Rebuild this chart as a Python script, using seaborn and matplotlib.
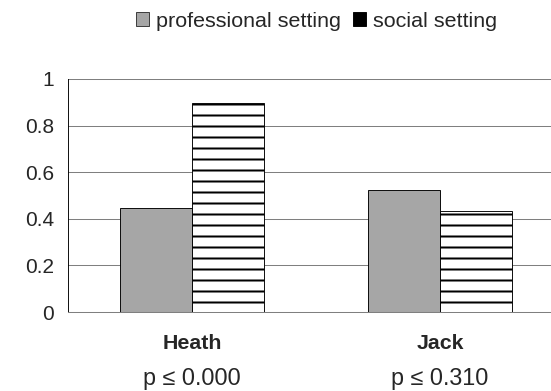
import matplotlib
matplotlib.use("Agg")
import matplotlib.pyplot as plt
import matplotlib.transforms as mtransforms
from matplotlib.patches import Patch
import seaborn as sns
import pandas as pd

categories = ["Heath", "Jack"]
p_labels = ["p \u2264 0.000", "p \u2264 0.310"]
series = ["professional setting", "social setting"]
professional = [0.445, 0.523]
social = [0.897, 0.435]
y_ticks = [0, 0.2, 0.4, 0.6, 0.8, 1]
y_tick_labels = ["0", "0.2", "0.4", "0.6", "0.8", "1"]

df = pd.DataFrame({
    "name": categories * 2,
    "setting": [series[0]] * 2 + [series[1]] * 2,
    "value": professional + social,
})

sns.set_style("white")
plt.rcParams["font.family"] = ["Liberation Sans", "DejaVu Sans"]
plt.rcParams["hatch.linewidth"] = 2.2

DPI = 66
W, H = 551, 391
fig = plt.figure(figsize=(W / DPI, H / DPI), dpi=DPI)
# axes extends beyond right edge (cropped, like the reference)
ax = fig.add_axes([68 / W, 79 / H, (564 - 68) / W, (312 - 79) / H])

sns.barplot(data=df, x="name", y="value", hue="setting", order=categories,
            hue_order=series, palette=["#A6A6A6", "white"], width=0.58,
            edgecolor="black", linewidth=1.0, saturation=1, ax=ax, legend=False)

n = len(categories)
for i, patch in enumerate(ax.patches[:2 * n]):
    if i >= n:
        patch.set_hatch("-")
        patch.set_edgecolor("black")

ax.set_xlim(-0.5, 1.5)
ax.set_ylim(0, 1)
ax.set_yticks(y_ticks)
ax.set_yticklabels(y_tick_labels)
ax.yaxis.grid(True, color="#7f7f7f", linewidth=1.1)
ax.set_axisbelow(True)
ax.tick_params(axis="y", length=5.5, width=1, color="black", labelsize=22.8, pad=10)

for s in ["top", "right"]:
    ax.spines[s].set_visible(False)
ax.spines["left"].set_color("black")
ax.spines["left"].set_linewidth(1.0)
ax.spines["bottom"].set_color("#7f7f7f")
ax.spines["bottom"].set_linewidth(1.1)

ax.set_xticks([0.5])
ax.set_xticklabels([""])
ax.tick_params(axis="x", length=5.5, width=1, color="#555555")
ax.set_xticks([0, 1], minor=True)
ax.set_xticklabels(categories, minor=True, fontweight="bold", fontsize=23.3)
ax.tick_params(axis="x", which="minor", length=0, pad=24)
ax.set_xlabel("")
ax.set_ylabel("")

trans = mtransforms.blended_transform_factory(ax.transData, fig.transFigure)
for i, lab in enumerate(p_labels):
    ax.text(i, 1 - 378.5 / H, lab, transform=trans, ha="center", va="center", fontsize=25.5)

handles = [Patch(facecolor="#A6A6A6", edgecolor="#333333", linewidth=1.0),
           Patch(facecolor="black", edgecolor="black", linewidth=1.0)]
fig.legend(handles, series, loc="center", bbox_to_anchor=(316.5 / W, 1 - 21.5 / H),
           ncol=2, frameon=False, fontsize=23.4, handlelength=0.62, handleheight=0.62,
           handletextpad=0.33, columnspacing=0.52, borderpad=0)

fig.savefig("out.png", dpi=DPI)
